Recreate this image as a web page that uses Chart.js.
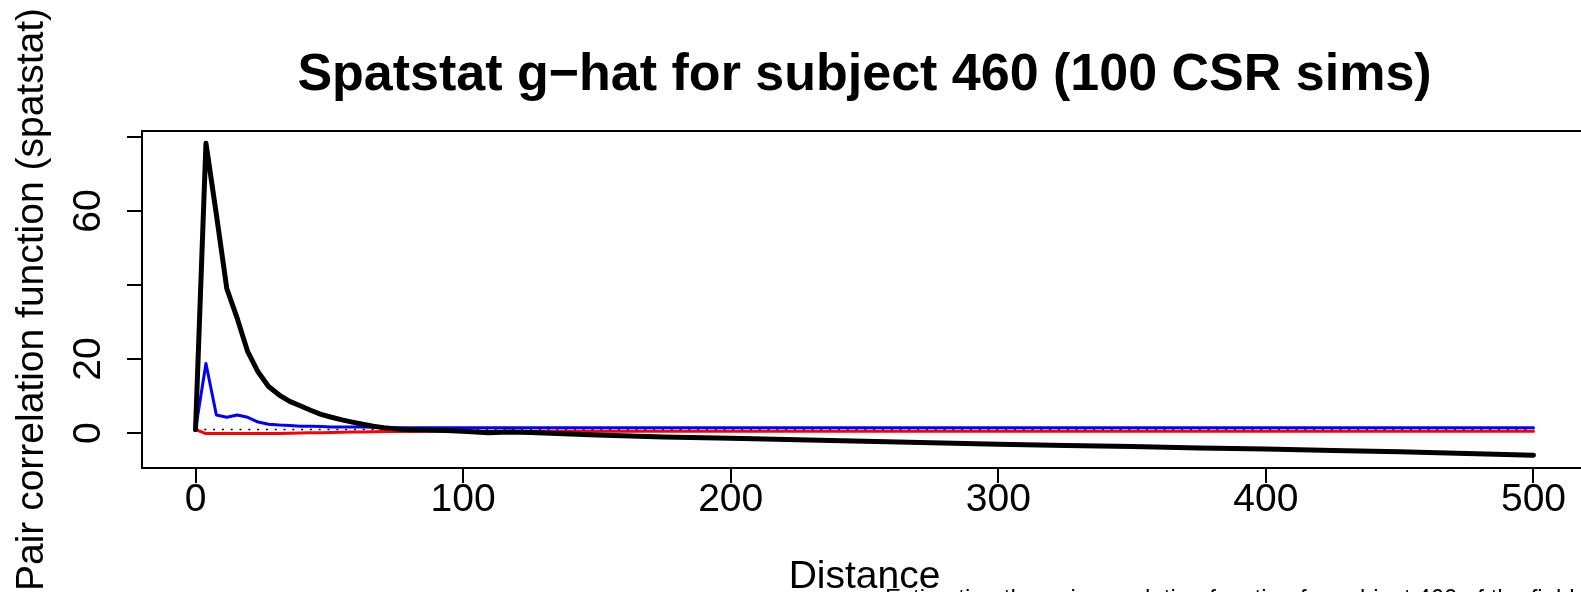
<!DOCTYPE html>
<html>
<head>
<meta charset="utf-8">
<script src="https://cdn.jsdelivr.net/npm/chart.js@4"></script>
<style>
  html, body { margin: 0; padding: 0; overflow: hidden; background: #fff; }
  #wrap { width: 1600px; height: 592px; }
</style>
</head>
<body>
<div id="wrap"><canvas id="c" width="1600" height="592"></canvas></div>
<script>
// Distances r at which g(r) was estimated
const distance = [0, 3.9, 7.8, 11.7, 15.6, 19.5, 23.4, 27.3, 31.3, 35.2, 39.1, 43.0, 46.9, 50.8,
  54.7, 58.6, 62.5, 66.4, 70.3, 74.2, 78.1, 82.0, 85.9, 89.8, 93.8, 97.7, 101.6, 109.4, 117.2,
  125.0, 150, 175, 200, 225, 250, 275, 300, 325, 350, 375, 400, 425, 450, 475, 500];

// Observed pair correlation function
const gObs = [1.0, 78.3, 59.0, 39.0, 31.0, 22.0, 16.5, 12.6, 10.3, 8.6, 7.4, 6.2, 5.1, 4.3,
  3.6, 3.0, 2.4, 1.9, 1.5, 1.2, 1.0, 0.9, 0.85, 0.8, 0.7, 0.6, 0.45, 0.15, 0.3,
  0.2, -0.5, -1.0, -1.4, -1.8, -2.2, -2.6, -3.0, -3.3, -3.6, -4.0, -4.3, -4.7, -5.0, -5.5, -5.95];

// Upper envelope of the CSR simulations
const gHi = [1.0, 18.8, 4.9, 4.3, 4.9, 4.3, 3.0, 2.4, 2.2, 2.1, 1.9, 1.85, 1.8, 1.7,
  1.7, 1.7, 1.65, 1.6, 1.55, 1.5, 1.5, 1.5, 1.5, 1.5, 1.5, 1.5, 1.45, 1.45, 1.45,
  1.45, 1.45, 1.45, 1.45, 1.45, 1.45, 1.45, 1.45, 1.45, 1.45, 1.45, 1.45, 1.45, 1.45, 1.45, 1.45];

// Lower envelope of the CSR simulations
const gLo = [1.0, -0.1, -0.1, -0.1, -0.1, -0.1, -0.1, -0.1, -0.1, 0.0, 0.05, 0.1, 0.15, 0.2,
  0.25, 0.3, 0.35, 0.4, 0.45, 0.45, 0.45, 0.45, 0.5, 0.5, 0.5, 0.5, 0.5, 0.5, 0.5,
  0.5, 0.5, 0.5, 0.5, 0.5, 0.5, 0.5, 0.5, 0.5, 0.5, 0.5, 0.5, 0.5, 0.5, 0.5, 0.5];

// Theoretical value under CSR
const theoDistance = [0, 500];
const gTheo = [1, 1];

// Axis ticks and labels
const xTicks = [0, 100, 200, 300, 400, 500];
const xTickLabels = ['0', '100', '200', '300', '400', '500'];
const yTicks = [0, 20, 40, 60, 80];
const yTickLabels = ['0', '20', '', '60', ''];
const xRange = [-20, 520];
const yRange = [-9.4, 81.6];

const titleText = 'Spatstat g\u2212hat for subject 460 (100 CSR sims)';
const xLabel = 'Distance';
const yLabel = 'Pair correlation function (spatstat)';
const footText = 'Estimating the pair correlation function for subject 460 of the field data window';

const FONT = '"Liberation Sans", Arial, Helvetica, sans-serif';
const LABEL_PX = 39;
const TITLE_PX = 52;

const toPoints = (xs, ys) => xs.map((x, i) => ({ x: x, y: ys[i] }));

// Box, tick labels and titles in the style of base graphics
const decorations = {
  id: 'decorations',
  afterDraw(chart) {
    const ctx = chart.ctx;
    const a = chart.chartArea;
    const xs = chart.scales.x;
    const ys = chart.scales.y;
    ctx.save();
    ctx.strokeStyle = '#000';
    ctx.lineWidth = 2;
    ctx.strokeRect(a.left, a.top, a.right - a.left, a.bottom - a.top);

    ctx.fillStyle = '#000';
    ctx.font = LABEL_PX + 'px ' + FONT;
    ctx.textAlign = 'center';
    ctx.textBaseline = 'alphabetic';
    xTicks.forEach((v, i) => {
      ctx.fillText(xTickLabels[i], xs.getPixelForValue(v), 511);
    });
    ctx.fillText(xLabel, (a.left + a.right) / 2, 588);

    yTicks.forEach((v, i) => {
      if (!yTickLabels[i]) return;
      ctx.save();
      ctx.translate(100, ys.getPixelForValue(v));
      ctx.rotate(-Math.PI / 2);
      ctx.fillText(yTickLabels[i], 0, 0);
      ctx.restore();
    });

    ctx.save();
    ctx.translate(43, (a.top + a.bottom) / 2);
    ctx.rotate(-Math.PI / 2);
    ctx.fillText(yLabel, 0, 0);
    ctx.restore();

    ctx.font = 'bold ' + TITLE_PX + 'px ' + FONT;
    ctx.fillText(titleText, (a.left + a.right) / 2, 90);

    ctx.font = '24px ' + FONT;
    ctx.textAlign = 'left';
    ctx.fillText(footText, 885, 606);
    ctx.restore();
  }
};

new Chart(document.getElementById('c'), {
  type: 'line',
  data: {
    datasets: [
      { data: toPoints(distance, gObs), borderColor: '#000', borderWidth: 5 },
      { data: toPoints(distance, gHi), borderColor: '#0000ff', borderWidth: 3 },
      { data: toPoints(distance, gLo), borderColor: '#ff0000', borderWidth: 3 },
      { data: toPoints(theoDistance, gTheo), borderColor: '#000', borderWidth: 1.5,
        borderDash: [2, 6.8], borderCapStyle: 'butt' }
    ]
  },
  options: {
    responsive: false,
    animation: false,
    devicePixelRatio: 1,
    layout: { padding: { top: 131, right: 13, left: 0, bottom: 0 } },
    elements: {
      point: { radius: 0 },
      line: { tension: 0, borderJoinStyle: 'round', borderCapStyle: 'round' }
    },
    plugins: { legend: { display: false }, tooltip: { enabled: false }, title: { display: false } },
    scales: {
      x: {
        type: 'linear', min: xRange[0], max: xRange[1],
        afterBuildTicks: s => { s.ticks = xTicks.map(v => ({ value: v })); },
        afterFit: s => { s.height = 124; },
        grid: { drawOnChartArea: false, tickLength: 15, color: '#000', lineWidth: 2 },
        border: { display: false },
        ticks: { display: false }
      },
      y: {
        type: 'linear', min: yRange[0], max: yRange[1],
        afterBuildTicks: s => { s.ticks = yTicks.map(v => ({ value: v })); },
        afterFit: s => { s.width = 142; },
        grid: { drawOnChartArea: false, tickLength: 15, color: '#000', lineWidth: 2 },
        border: { display: false },
        ticks: { display: false }
      }
    }
  },
  plugins: [decorations]
});
</script>
</body>
</html>
